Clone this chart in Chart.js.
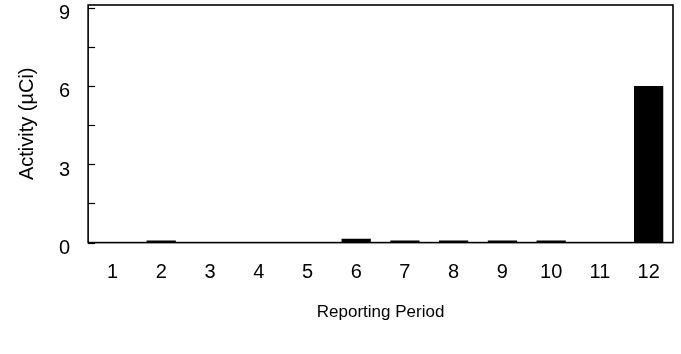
<!DOCTYPE html>
<html>
<head>
<meta charset="utf-8">
<script src="https://cdn.jsdelivr.net/npm/chart.js@4"></script>
<style>
  html, body { margin: 0; padding: 0; background: #fff; }
  #wrap { width: 681px; height: 354px; }
</style>
</head>
<body>
<div id="wrap"><canvas id="chart" width="681" height="354"></canvas></div>
<script>
const periods = ['1', '2', '3', '4', '5', '6', '7', '8', '9', '10', '11', '12'];
const activity = [0, 0.08, 0, 0, 0, 0.15, 0.08, 0.08, 0.08, 0.08, 0, 6];
const yTicks = [0, 1.5, 3, 4.5, 6, 7.5, 9];

const FONT = "'Liberation Sans', Arial, sans-serif";

// draws the box round the plot and the short ticks pointing inward
const frame = {
  id: 'frame',
  afterDraw(chart) {
    const ctx = chart.ctx;
    const a = chart.chartArea;
    const y = chart.scales.y;
    ctx.save();
    ctx.strokeStyle = '#000';
    ctx.lineWidth = 1.6;
    ctx.strokeRect(a.left, a.top, a.right - a.left, a.bottom - a.top);
    ctx.lineWidth = 1.2;
    yTicks.forEach((v) => {
      const py = Math.round(y.getPixelForValue(v)) + 0.5;
      ctx.beginPath();
      ctx.moveTo(a.left, py);
      ctx.lineTo(a.left + 7, py);
      ctx.stroke();
    });
    ctx.restore();
  },
};

const canvas = document.getElementById('chart');
const chart = new Chart(canvas, {
  type: 'bar',
  data: {
    labels: periods,
    datasets: [
      {
        data: activity,
        backgroundColor: '#000',
        barPercentage: 0.6,
        categoryPercentage: 1,
      },
    ],
  },
  options: {
    responsive: false,
    animation: false,
    layout: { padding: { top: 5, right: 8, bottom: 27, left: 15 } },
    plugins: {
      legend: { display: false },
      tooltip: { enabled: false },
    },
    scales: {
      x: {
        grid: { display: false, drawTicks: false },
        border: { display: false },
        ticks: {
          color: '#000',
          padding: 18,
          font: { family: FONT, size: 20 },
        },
        title: {
          display: true,
          text: 'Reporting Period',
          color: '#000',
          padding: { top: 0 },
          font: { family: FONT, size: 17 },
        },
      },
      y: {
        min: 0,
        max: 9.1,
        afterBuildTicks: (scale) => {
          scale.ticks = yTicks.map((v) => ({ value: v }));
        },
        afterFit: (scale) => {
          scale.paddingTop = 0;
          scale.paddingBottom = 0;
        },
        grid: { display: false, drawTicks: false },
        border: { display: false },
        ticks: {
          color: '#000',
          padding: 18,
          labelOffset: 6,
          autoSkip: false,
          font: { family: FONT, size: 20 },
          callback: (v) => (v % 3 === 0 ? String(v) : ''),
        },
        title: {
          display: true,
          text: 'Activity (\u00b5Ci)',
          color: '#000',
          padding: { top: 0, bottom: 2 },
          font: { family: FONT, size: 20 },
        },
      },
    },
  },
  plugins: [frame],
});
</script>
</body>
</html>
